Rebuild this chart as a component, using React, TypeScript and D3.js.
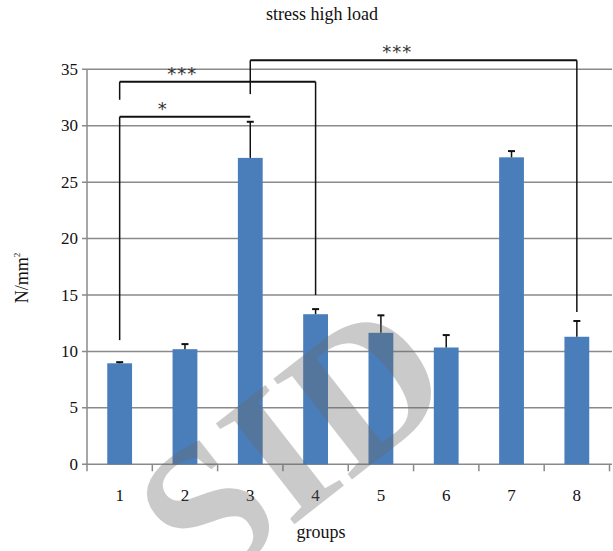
import React, { useRef, useEffect } from 'react';
import * as d3 from 'd3';

// chart values
const groups = ['1', '2', '3', '4', '5', '6', '7', '8'];
const means = [8.95, 10.2, 27.15, 13.3, 11.65, 10.35, 27.2, 11.3];
const errors = [0.1, 0.45, 3.2, 0.45, 1.55, 1.1, 0.55, 1.4];
const yTicks = [0, 5, 10, 15, 20, 25, 30, 35];

// significance brackets: groups compared, bar height, leg ends, label
const bracketFrom = ['1', '1', '3'];
const bracketTo = ['3', '4', '8'];
const bracketLevel = [30.8, 33.9, 35.8];
const bracketFromLeg = [11.0, 32.3, 32.8];
const bracketToLeg = [null, 15.0, 13.5];
const bracketLabels = ['*', '***', '***'];
const bracketLabelAt = [0.33, 0.32, 0.45];

const W = 613;
const H = 551;
const margin = { top: 69.3, right: 3.5, bottom: 86.7, left: 87 };

const App = () => {
  const svgRef = useRef<SVGSVGElement>(null);

  useEffect(() => {
    const svg = d3.select(svgRef.current);
    svg.selectAll('*').remove();

    const x = d3.scaleBand()
      .domain(groups)
      .range([margin.left, 609.5])
      .paddingInner(0.62)
      .paddingOuter(0.31);

    const y = d3.scaleLinear()
      .domain([0, 35])
      .range([H - margin.bottom, margin.top]);

    const cx = (g: string) => (x(g) as number) + x.bandwidth() / 2;
    const serif = '"Liberation Serif", "DejaVu Serif", serif';

    // grid lines
    svg.append('g')
      .selectAll('line')
      .data(yTicks)
      .enter().append('line')
      .attr('x1', 82)
      .attr('x2', 612)
      .attr('y1', d => y(d))
      .attr('y2', d => y(d))
      .attr('stroke', '#8a8a8a')
      .attr('stroke-width', 1.5);

    // axes
    svg.append('line')
      .attr('x1', margin.left).attr('x2', margin.left)
      .attr('y1', y(35)).attr('y2', y(0))
      .attr('stroke', '#8a8a8a').attr('stroke-width', 1.5);

    const bounds = groups.map(g => x(g) as number - x.step() * x.paddingInner() / 2);
    bounds.push(609.5);
    svg.append('g')
      .selectAll('line')
      .data(bounds)
      .enter().append('line')
      .attr('x1', d => d).attr('x2', d => d)
      .attr('y1', y(0)).attr('y2', y(0) + 7)
      .attr('stroke', '#8a8a8a').attr('stroke-width', 1.5);

    // bars
    svg.append('g')
      .selectAll('rect')
      .data(groups)
      .enter().append('rect')
      .attr('x', d => x(d) as number)
      .attr('y', (d, i) => y(means[i]))
      .attr('width', x.bandwidth())
      .attr('height', (d, i) => y(0) - y(means[i]))
      .attr('fill', '#4a7ebb');

    // error bars
    const eb = svg.append('g').attr('stroke', '#111').attr('stroke-width', 1.5);
    groups.forEach((g, i) => {
      const top = y(means[i] + errors[i]);
      eb.append('line')
        .attr('x1', cx(g)).attr('x2', cx(g))
        .attr('y1', y(means[i])).attr('y2', top);
      eb.append('line')
        .attr('x1', cx(g) - 3.5).attr('x2', cx(g) + 3.5)
        .attr('y1', top).attr('y2', top)
        .attr('stroke-width', 2);
    });

    // significance brackets
    const br = svg.append('g').attr('stroke', '#111').attr('fill', 'none');
    bracketFrom.forEach((f, i) => {
      const x1 = cx(f);
      const x2 = cx(bracketTo[i]);
      const yl = y(bracketLevel[i]);
      br.append('line')
        .attr('x1', x1).attr('x2', x2)
        .attr('y1', yl).attr('y2', yl)
        .attr('stroke-width', 2);
      br.append('line')
        .attr('x1', x1).attr('x2', x1)
        .attr('y1', yl).attr('y2', y(bracketFromLeg[i]))
        .attr('stroke-width', 1.5);
      const leg = bracketToLeg[i];
      if (leg !== null) {
        br.append('line')
          .attr('x1', x2).attr('x2', x2)
          .attr('y1', yl).attr('y2', y(leg))
          .attr('stroke-width', 1.5);
      }
      svg.append('text')
        .attr('x', x1 + (x2 - x1) * bracketLabelAt[i])
        .attr('y', yl - 2)
        .attr('text-anchor', 'middle')
        .attr('font-family', '"DejaVu Sans", sans-serif')
        .attr('font-size', 18)
        .attr('letter-spacing', 1)
        .attr('fill', '#333')
        .text(bracketLabels[i]);
    });

    // tick labels
    svg.append('g')
      .selectAll('text')
      .data(yTicks)
      .enter().append('text')
      .attr('x', 78)
      .attr('y', d => y(d) + 5.5)
      .attr('text-anchor', 'end')
      .attr('font-family', serif)
      .attr('font-size', 17)
      .attr('fill', '#111')
      .text(d => d);

    svg.append('g')
      .selectAll('text')
      .data(groups)
      .enter().append('text')
      .attr('x', d => cx(d))
      .attr('y', 501)
      .attr('text-anchor', 'middle')
      .attr('font-family', serif)
      .attr('font-size', 17)
      .attr('fill', '#111')
      .text(d => d);

    // titles
    svg.append('text')
      .attr('x', 322).attr('y', 20)
      .attr('text-anchor', 'middle')
      .attr('font-family', serif)
      .attr('font-size', 18)
      .attr('fill', '#111')
      .text('stress high load');

    svg.append('text')
      .attr('x', 321).attr('y', 538)
      .attr('text-anchor', 'middle')
      .attr('font-family', serif)
      .attr('font-size', 18)
      .attr('fill', '#111')
      .text('groups');

    const yl = svg.append('text')
      .attr('transform', 'translate(28,278) rotate(-90)')
      .attr('text-anchor', 'middle')
      .attr('font-family', serif)
      .attr('font-size', 18)
      .attr('fill', '#111');
    yl.append('tspan').text('N/mm');
    yl.append('tspan').attr('font-size', 9).attr('dy', -8).text('2');

    // watermark over the plot
    svg.append('text')
      .attr('transform', 'translate(332,495) rotate(-38)')
      .attr('text-anchor', 'middle')
      .attr('font-family', serif)
      .attr('font-weight', 'bold')
      .attr('font-size', 195)
      .attr('fill', '#666')
      .attr('fill-opacity', 0.35)
      .text('SID');
  }, []);

  return (
    <svg
      ref={svgRef}
      width={W}
      height={H}
      style={{ position: 'absolute', left: 0, top: 0, background: '#fff' }}
    />
  );
};

export default App;
